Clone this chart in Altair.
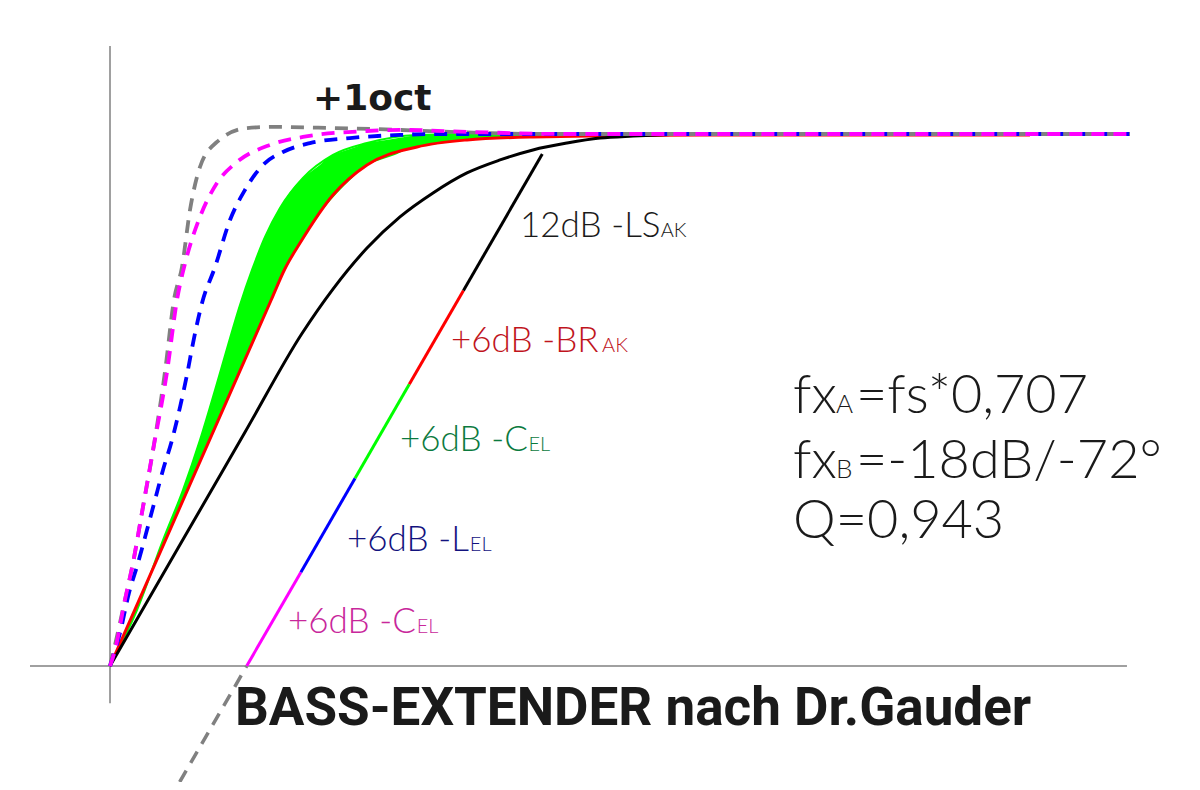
import altair as alt
import pandas as pd

# ---- data: x in octaves (0 = axis origin), y in dB (0 = pass-band level) ----
gray_x = [0, 0.046, 0.138, 0.212, 0.304, 0.397, 0.507, 0.590, 0.664, 0.738, 0.830, 0.987, 1.264, 1.504, 2.057, 2.426, 3.137, 4.059, 9.41]
gray_y = [-34, -32.66, -29.78, -27.42, -23.84, -20.20, -15.21, -10.61, -8.50, -4.86, -2.11, -0.51, 0.38, 0.45, 0.38, 0.32, 0.13, 0, 0]

magenta_x = [0, 0.046, 0.138, 0.212, 0.304, 0.397, 0.526, 0.618, 0.701, 0.830, 0.987, 1.172, 1.476, 1.780, 2.371, 2.675, 3.321, 4.151, 9.41]
magenta_y = [-34, -32.98, -29.78, -27.42, -23.84, -20.20, -15.21, -10.61, -8.05, -5.30, -3.13, -1.79, -0.70, -0.19, 0.19, 0.26, 0.13, 0, 0]

blue_x = [0, 0.092, 0.175, 0.258, 0.341, 0.415, 0.489, 0.572, 0.646, 0.710, 0.766, 0.849, 0.969, 1.107, 1.245, 1.411, 1.596, 1.845, 2.214, 2.675, 3.137, 9.41]
blue_y = [-34, -31.89, -29.33, -27.42, -25.31, -23.39, -21.47, -19.56, -17.45, -15.40, -13.36, -10.80, -8.50, -5.50, -3.58, -1.98, -1.15, -0.58, -0.26, -0.06, 0, 0]

green_x = [0, 0.249, 0.489, 0.673, 0.830, 0.969, 1.089, 1.199, 1.310, 1.430, 1.568, 1.780, 2.057, 2.371, 2.832, 3.413, 4.151]
green_y = [-34, -30.42, -25.95, -22.75, -19.56, -16.36, -13.49, -10.93, -8.69, -6.58, -4.73, -2.81, -1.34, -0.58, -0.06, 0, 0]

red_x = [0, 0.5, 1.0, 1.485, 1.614, 1.753, 2.057, 2.371, 2.832, 3.293, 3.902, 5.443, 8.487]
red_y = [-34, -26.14, -18.27, -10.64, -8.61, -6.97, -3.90, -1.98, -0.83, -0.38, -0.19, -0.06, -0.06]

black_x = [0, 0.664, 1.245, 1.771, 2.057, 2.371, 2.675, 2.980, 3.293, 3.598, 3.902, 4.216, 4.520, 4.825, 5.443, 9.41]
black_y = [-34, -26.03, -19.06, -12.75, -9.91, -7.29, -5.30, -3.77, -2.49, -1.66, -1.02, -0.58, -0.26, -0.13, 0, 0]

# green band between the "C_EL" curve and the red curve, read at common levels
band_y = [-34, -30.42, -25.95, -22.75, -19.4, -16.36, -13.49, -10.93, -8.69, -6.58, -4.73, -2.81, -1.98, -1.34, -0.83, -0.58, -0.38, -0.19, -0.06]
band_left = [0, 0.249, 0.489, 0.673, 0.837, 0.969, 1.089, 1.199, 1.310, 1.430, 1.568, 1.780, 1.936, 2.057, 2.268, 2.371, 2.548, 2.717, 2.832]
band_right = [0, 0.228, 0.512, 0.715, 0.928, 1.121, 1.304, 1.466, 1.609, 1.787, 1.975, 2.235, 2.371, 2.628, 2.832, 3.088, 3.293, 3.902, 5.443]

# 12 dB/oct asymptote, split in 6 dB steps
seg_names = ["gray", "C_EL", "L_EL", "C_EL2", "BR_AK", "LS_AK"]
seg_x1 = [0.643, 1.261, 1.761, 2.261, 2.761, 3.261]
seg_x2 = [1.261, 1.761, 2.261, 2.761, 3.261, 3.988]
seg_y1 = [-41.41, -34, -28, -22, -16, -10]
seg_y2 = [-34, -28, -22, -16, -10, -1.28]

axis_h = ([-0.738, 9.382], [-34, -34])
axis_v = ([0, 0], [5.62, -36.37])

# ---- layout ----
W, H = 1184, 774
xs = alt.Scale(domain=[-0.941, 9.982], nice=False, zero=False)
ys = alt.Scale(domain=[-41.41, 8.05], nice=False, zero=False)
X = lambda f="x": alt.X(f"{f}:Q", scale=xs, axis=None)
Y = lambda f="y": alt.Y(f"{f}:Q", scale=ys, axis=None)


def curve(xv, yv, color, dash=None, width=3.0, smooth=True):
    df = pd.DataFrame({"x": xv, "y": yv, "i": list(range(len(xv)))})
    kw = dict(color=color, strokeWidth=width, clip=True, strokeJoin="round")
    if smooth:
        kw["interpolate"] = "monotone"
    if dash:
        kw["strokeDash"] = dash
        kw["strokeCap"] = "butt"
    return alt.Chart(df).mark_line(**kw).encode(x=X(), y=Y(), order="i:Q")


def label(t, x, y, size, color, weight="normal", font="Lato"):
    df = pd.DataFrame({"x": [x], "y": [y], "t": [t]})
    return alt.Chart(df).mark_text(
        align="left", baseline="alphabetic", fontSize=size, color=color,
        fontWeight=weight, font=font
    ).encode(x=X(), y=Y(), text="t:N")


axes = [curve(*axis_h, "#808080", width=1.5, smooth=False),
        curve(*axis_v, "#808080", width=1.5, smooth=False)]

band_df = pd.DataFrame({"y": band_y, "x": band_left, "x2": band_right})
band = alt.Chart(band_df).mark_area(color="#00FF00", orient="horizontal", opacity=1,
                                    interpolate="monotone").encode(
    y=Y(), x=X(), x2="x2:Q"
)

seg_df = pd.DataFrame({"s": seg_names, "x": seg_x1, "x2": seg_x2, "y": seg_y1, "y2": seg_y2})
seg_colors = alt.Scale(domain=seg_names,
                       range=["#808080", "#FF00FF", "#0000FF", "#00FF00", "#FF0000", "#000000"])
segs = alt.Chart(seg_df[seg_df.s != "gray"]).mark_rule(strokeWidth=3, clip=True).encode(
    x=X(), x2="x2:Q", y=Y(), y2="y2:Q", color=alt.Color("s:N", scale=seg_colors, legend=None)
)
dash = [13, 9]
seg_gray = alt.Chart(seg_df[seg_df.s == "gray"]).mark_rule(
    strokeWidth=3.5, clip=True, strokeDash=dash, color="#808080"
).encode(x=X(), x2="x2:Q", y=Y(), y2="y2:Q")

lines = [
    band,
    curve(green_x, green_y, "#00FF00", width=2),
    curve(red_x, red_y, "#FF0000"),
    curve(black_x, black_y, "#000000"),
    curve(gray_x, gray_y, "#808080", dash, 3.8),
    curve(blue_x, blue_y, "#0000FF", dash, 3.8),
    curve(magenta_x, magenta_y, "#FF00FF", dash, 3.8),
    segs, seg_gray,
]

LS = 35
SUB = 20
FS = 54
TXT = "#1a1a1a"
texts = [
    label("+1oct", 1.873, 1.53, 36, TXT, "bold", "DejaVu Sans"),
    label("12dB -LS", 3.782, -6.58, LS, TXT, 300),
    label("AK", 5.080, -6.58, SUB, TXT, 300),
    label("+6dB -BR", 3.146, -13.93, LS, "#C0141C", 300),
    label("AK", 4.540, -13.93, SUB, "#C0141C", 300),
    label("+6dB -C", 2.675, -20.26, LS, "#0B7A3E", 300),
    label("EL", 3.860, -20.26, SUB, "#0B7A3E", 300),
    label("+6dB -L", 2.186, -26.65, LS, "#12127E", 300),
    label("EL", 3.320, -26.65, SUB, "#12127E", 300),
    label("+6dB -C", 1.642, -31.89, LS, "#C8279B", 300),
    label("EL", 2.830, -31.89, SUB, "#C8279B", 300),
    label("fx", 6.301, -17.83, FS, TXT, 300),
    label("A", 6.697, -17.83, 26, TXT, 300),
    label("=fs*0,707", 6.882, -17.83, FS, TXT, 300),
    label("fx", 6.301, -21.98, FS, TXT, 300),
    label("B", 6.697, -21.98, 26, TXT, 300),
    label("=-18dB/-72°", 6.882, -21.98, FS, TXT, 300),
    label("Q=0,943", 6.301, -25.82, FS, TXT, 300),
    label("BASS-EXTENDER nach Dr.Gauder", 1.153, -37.77, 53, TXT, "bold", "Roboto"),
]

chart = alt.layer(*axes, *lines, *texts).properties(
    width=W, height=H, padding=0, autosize=alt.AutoSizeParams(type="none"), background="white"
).configure_view(stroke=None)

chart.save("out.html", embed_options={"renderer": "svg", "actions": False})
